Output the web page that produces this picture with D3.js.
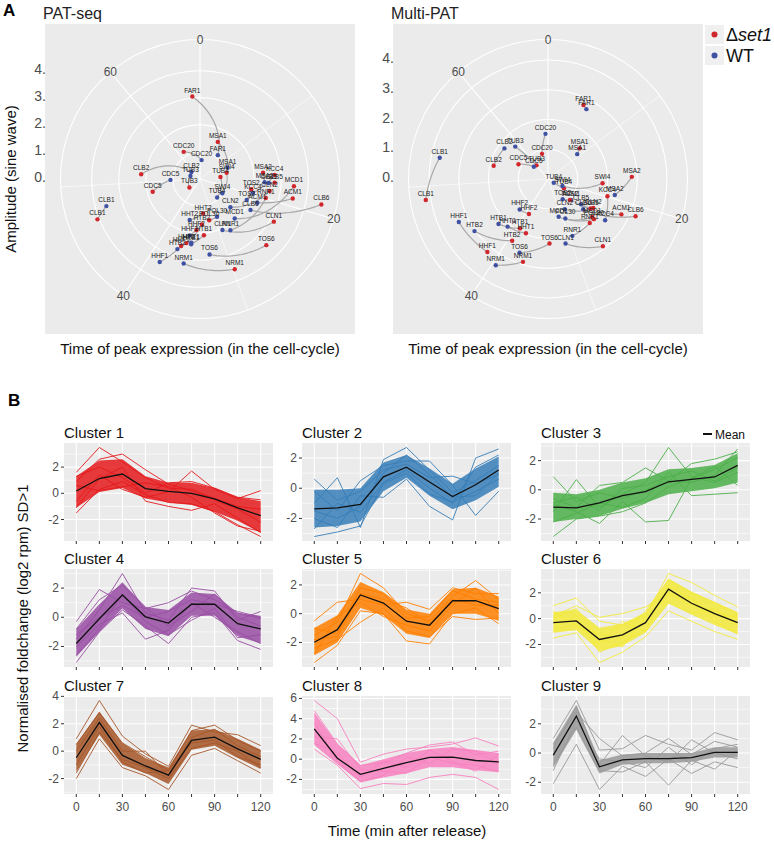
<!DOCTYPE html>
<html>
<head>
<meta charset="utf-8">
<script src="https://cdn.jsdelivr.net/npm/d3@7"></script>
<style>
  body { margin: 0; background: #fff; }
  svg { font-family: "Liberation Sans", Arial, sans-serif; }
</style>
</head>
<body>
<svg id="fig" width="774" height="843"></svg>
<script>
// ---- panel A : polar plots ----
const thetaLimits = [0, 67.5]
const thetaMajor = [0, 20, 40, 60]
const thetaMinor = [10, 30, 50]
const ampBreaks = [0, 1, 2, 3, 4]

// gene, WT time, WT amplitude, set1 time, set1 amplitude
const patSeq = [
  ['FAR1', 6.9, 1.10, 66.5, 3.06],
  ['MSA1', 12.7, 1.10, 4.8, 1.52],
  ['CDC20', 0.9, 0.70, 61.7, 1.17],
  ['SWI4', 23.0, 0.98, 14.4, 1.01],
  ['TUB4', 25.7, 0.93, 15.8, 0.76],
  ['CLB2', 58.0, 0.41, 51.5, 2.18],
  ['TUB3', 53.9, 0.37, 43.4, 0.50],
  ['CDC5', 50.3, 1.09, 47.8, 1.81],
  ['CLB1', 47.6, 3.60, 46.6, 4.07],
  ['MSA2', 17.4, 2.39, 15.8, 2.34],
  ['KCC4', 19.6, 2.02, 16.3, 2.76],
  ['CLB5', 17.5, 2.54, 17.4, 2.76],
  ['MCD1', 26.0, 1.94, 17.7, 3.48],
  ['TOS2', 21.4, 1.89, 19.0, 1.93],
  ['CLN2', 24.9, 1.53, 18.7, 2.61],
  ['RNR1', 28.0, 2.20, 19.9, 2.53],
  ['ACM1', 21.1, 2.29, 19.1, 3.50],
  ['CLB6', 22.8, 2.19, 19.1, 4.58],
  ['CLN1', 29.3, 2.06, 22.5, 3.15],
  ['TOS6', 32.4, 2.81, 25.3, 3.46],
  ['NRM1', 35.8, 3.18, 29.8, 3.57],
  ['HHT2', 36.4, 1.56, 32.8, 1.28],
  ['HTB2', 37.1, 2.72, 33.3, 1.68],
  ['POL30', 29.2, 1.53, 31.4, 1.56],
  ['HTB1', 35.2, 2.43, 33.0, 2.08],
  ['HHF1', 38.6, 3.41, 36.7, 2.57],
  ['HHF2', 35.7, 2.12, 34.5, 1.89],
  ['HHT1', 35.2, 2.37, 36.0, 2.42]
]

const multiPat = [
  ['FAR1', 5.4, 2.68, 4.8, 2.76],
  ['MSA1', 9.3, 1.29, 8.6, 1.48],
  ['CDC20', 66.9, 1.52, 65.0, 0.87],
  ['CLB2', 57.2, 1.79, 53.2, 1.88],
  ['TUB3', 59.0, 1.55, 60.0, 0.60],
  ['CDC5', 58.3, 0.63, 55.6, 1.11],
  ['CLB1', 52.7, 3.71, 48.8, 4.17],
  ['TUB4', 23.0, 0.23, 22.6, 0.62],
  ['SWI4', 21.7, 0.54, 17.7, 1.84],
  ['MSA2', 19.4, 2.31, 16.6, 2.82],
  ['KCC4', 23.6, 2.37, 19.9, 2.08],
  ['ACM1', 24.8, 1.05, 21.7, 2.74],
  ['CLB6', 24.5, 1.56, 21.2, 3.20],
  ['CLB5', 23.9, 1.40, 23.4, 1.74],
  ['TOS2', 27.0, 0.84, 25.1, 1.02],
  ['CLN2', 28.3, 1.16, 23.0, 1.81],
  ['MCD1', 30.8, 1.32, 24.5, 1.96],
  ['POL30', 29.3, 1.45, 24.6, 2.05],
  ['RNR1', 29.4, 2.08, 25.6, 2.04],
  ['CLN1', 30.9, 2.25, 26.4, 2.92],
  ['TOS6', 37.7, 2.66, 33.5, 2.17],
  ['NRM1', 39.6, 3.39, 36.9, 2.91],
  ['HHF1', 45.8, 3.33, 41.2, 3.19],
  ['HTB2', 44.0, 3.03, 39.4, 2.40],
  ['HHT1', 41.3, 2.10, 37.9, 1.97],
  ['HTB1', 42.7, 2.25, 39.3, 1.91],
  ['HHF2', 41.8, 1.40, 39.1, 1.34]
]

// ---- panel B : clusters ----
const times = [0, 15, 30, 45, 60, 75, 90, 105, 120]
const timeLabels = [0, 30, 60, 90, 120]
const clusterNames = ['Cluster 1', 'Cluster 2', 'Cluster 3', 'Cluster 4', 'Cluster 5',
  'Cluster 6', 'Cluster 7', 'Cluster 8', 'Cluster 9']

const clusterMean = [
  [0.18, 1.13, 1.47, 0.36, 0.15, 0.0, -0.42, -1.11, -1.71],
  [-1.37, -1.30, -1.07, 0.75, 1.39, 0.41, -0.55, 0.23, 1.21],
  [-1.19, -1.24, -0.90, -0.40, -0.12, 0.55, 0.71, 0.88, 1.67],
  [-1.80, -0.10, 1.53, 0.03, -0.40, 0.89, 0.89, -0.44, -0.80],
  [-1.99, -1.11, 1.30, 0.74, -0.52, -0.80, 0.90, 0.90, 0.36],
  [-0.31, -0.18, -1.61, -1.25, -0.31, 2.28, 1.19, 0.39, -0.31],
  [-0.48, 2.09, -0.31, -1.08, -1.75, 0.79, 1.03, 0.17, -0.60],
  [3.00, 0.10, -1.50, -0.90, -0.33, 0.17, 0.20, -0.13, -0.27],
  [-0.14, 2.53, -0.94, -0.47, -0.38, -0.38, -0.31, 0.05, 0.05]
]

// dense core of the gene profiles (lower / upper edge)
const clusterLo = [
  [-1.1, 0.1, 0.4, -0.4, -0.7, -0.9, -1.4, -2.1, -3.0],
  [-2.6, -2.5, -2.2, -0.2, 0.7, -0.5, -1.4, -0.8, 0.1],
  [-2.2, -2.0, -1.8, -1.3, -0.9, -0.3, -0.1, 0.1, 0.5],
  [-2.7, -1.0, 0.6, -0.8, -1.3, 0.1, 0.1, -1.3, -1.8],
  [-2.9, -2.0, 0.4, -0.1, -1.4, -1.7, 0.0, 0.0, -0.5],
  [-1.1, -0.9, -2.5, -2.1, -1.1, 1.2, 0.3, -0.5, -1.2],
  [-1.5, 1.2, -1.0, -1.6, -2.4, 0.1, 0.4, -0.5, -1.3],
  [1.4, -0.5, -2.3, -1.8, -1.4, -0.8, -0.8, -1.1, -1.3],
  [-1.0, 1.6, -1.4, -0.8, -0.7, -0.7, -0.6, -0.3, -0.3]
]
const clusterHi = [
  [1.3, 2.5, 2.6, 1.3, 0.8, 0.8, 0.4, -0.3, -0.6],
  [-0.1, -0.1, 0.0, 1.7, 2.2, 1.3, 0.3, 1.3, 2.1],
  [-0.2, -0.3, 0.0, 0.5, 0.8, 1.4, 1.5, 1.7, 2.5],
  [-0.8, 0.9, 2.4, 0.7, 0.5, 1.7, 1.6, 0.3, 0.1],
  [-1.0, -0.1, 2.2, 1.5, 0.3, 0.0, 1.7, 1.8, 1.2],
  [0.5, 0.7, -0.7, -0.4, 0.5, 3.1, 2.1, 1.3, 0.5],
  [0.5, 2.9, 0.6, -0.5, -1.2, 1.5, 1.6, 0.9, 0.1],
  [4.6, 1.5, -0.6, 0.0, 0.6, 1.0, 1.2, 0.9, 0.6],
  [0.7, 3.3, -0.5, -0.1, 0.0, 0.0, 0.0, 0.4, 0.4]
]

// individual gene profiles
const clusterLines = [
  [[1.6, 3.5, 2.4, 1.2, 0.4, 0.3, -0.4, -1.0, -1.2],
   [-1.5, 0.3, 0.9, -0.1, -0.7, -0.8, -1.4, -2.4, -3.3],
   [0.9, 2.6, 3.0, 1.8, 0.7, 0.2, -0.5, -1.2, -2.2],
   [-0.6, 1.4, 0.3, -0.3, 0.1, 1.7, 0.3, -0.4, 0.2],
   [0.6, 0.2, 0.5, 0.8, 0.5, -0.3, -1.5, -2.5, -2.9],
   [-1.1, 1.1, 2.0, -0.6, -1.0, -1.3, -0.8, -1.9, -3.0],
   [1.3, 2.0, 1.2, 0.0, 0.8, 0.9, 0.4, -0.3, -0.5]],
  [[0.6, -0.8, -0.2, 1.2, 1.6, 0.7, 0.8, 0.3, 0.9],
   [-3.2, -2.9, -2.5, 0.3, 1.0, -0.4, -0.9, -0.2, 0.6],
   [-1.0, 0.7, -2.6, 1.9, 2.7, 1.2, -0.3, 0.5, 1.5],
   [-2.0, -2.6, -0.5, -0.6, 0.6, -1.2, -2.1, 2.0, 2.6],
   [-0.2, -1.5, 0.5, 1.5, 1.8, 1.8, 0.2, -1.8, -0.2],
   [-2.7, -1.0, -1.6, 0.4, 1.2, 0.0, -1.0, 1.4, 2.2],
   [-1.5, -2.0, -1.2, 1.0, 2.2, 0.9, -0.6, -0.5, 1.0]],
  [[0.9, -0.8, -0.2, -0.6, 0.0, 0.6, 0.5, 1.0, 2.8],
   [-3.2, -2.0, -1.8, -1.5, -0.9, 0.2, 0.8, 1.4, 2.2],
   [-1.5, 0.7, -1.2, -0.3, 0.5, 2.9, 0.9, 0.5, 1.2],
   [-1.0, -1.5, -2.3, -0.8, -2.2, -2.1, 0.8, 1.6, 0.3],
   [-0.6, -1.2, 0.3, 0.5, 1.5, 0.6, 1.8, 2.1, 2.6],
   [-2.2, -1.6, -0.9, -1.2, -0.6, 1.2, -0.4, -0.3, -0.2],
   [-0.9, -0.5, -1.4, 0.1, 0.3, 0.9, 1.3, 0.6, 1.5]],
  [[-0.3, 1.9, 1.0, 0.6, 1.0, 1.8, 1.2, 0.3, -0.1],
   [-3.1, -1.0, 0.5, -0.6, -1.8, 0.0, 0.3, -1.6, -2.2],
   [-1.5, 0.5, 3.0, 0.3, -0.2, 2.0, 1.8, -0.2, 0.4],
   [-2.0, -0.5, 0.3, -1.5, -0.9, 1.0, 0.0, -1.0, -1.8],
   [-0.8, 1.2, 2.2, 0.7, -0.6, 0.4, 1.6, 0.0, -0.6],
   [-2.6, -0.8, 1.6, -0.3, -1.2, -0.2, 0.6, -1.4, -1.2],
   [-1.2, 0.0, 0.8, 0.0, 0.4, 1.2, 0.9, 0.4, 0.0]],
  [[-0.5, 0.8, 1.0, 0.6, 0.8, 0.3, 1.8, 1.4, 1.4],
   [-3.4, -2.2, 0.2, 0.0, -1.9, -2.1, 0.0, 0.4, -0.7],
   [-1.5, -0.6, 2.8, 1.8, 0.0, -0.5, 1.2, 2.3, 1.0],
   [-2.4, -1.8, -0.6, 0.4, -1.2, -1.6, -0.2, -0.4, -0.3],
   [-1.0, -1.4, 1.8, 1.4, -0.3, -0.2, 1.6, 1.0, 0.8],
   [-2.8, -0.2, 0.8, -0.2, -0.8, -1.2, 0.6, 1.8, 0.0],
   [-1.8, -1.6, 1.4, 1.0, 0.4, -0.7, 1.0, 0.6, 0.6]],
  [[1.0, 1.6, -0.2, -0.5, 0.2, 3.5, 2.8, 1.8, 0.9],
   [-1.5, -1.1, -3.4, -2.6, -1.4, 0.6, -0.2, -1.0, -1.6],
   [0.2, 1.0, 0.1, 0.4, 0.9, 2.0, 1.0, 0.6, 0.0],
   [-0.8, 0.3, -2.6, -1.8, -0.9, 2.6, 1.5, -0.2, -1.2],
   [0.6, -0.6, -1.2, -1.5, 0.6, 3.0, 2.0, 1.2, 0.4],
   [-1.0, -0.4, -2.0, -0.2, -1.0, 1.2, 0.4, 0.8, -0.6],
   [0.0, 0.8, -1.6, -2.2, 0.1, 1.8, 1.6, 0.2, 0.2]],
  [[0.9, 3.7, 1.1, -0.2, -1.1, 1.9, 1.4, 1.2, 0.4],
   [-2.0, 0.9, -1.2, -1.8, -2.8, -0.3, 0.2, -0.7, -1.6],
   [0.5, 2.8, 0.6, -0.4, -1.4, 1.5, 1.9, 0.8, 0.0],
   [-1.6, 1.4, -0.6, -1.2, -2.0, 0.2, 0.6, 0.0, -1.2],
   [0.0, 2.4, 0.0, 0.0, -1.8, 1.0, 1.6, 0.4, -0.4],
   [-1.0, 1.8, -0.8, -1.6, -1.4, 0.6, 0.8, -0.4, -1.0]],
  [[5.8, 4.0, -0.3, 0.5, 1.0, 1.2, 1.5, 2.1, 1.3],
   [1.0, -0.6, -2.9, -2.4, -2.5, -1.8, -1.5, -1.8, -3.0],
   [4.8, 1.5, -0.6, -0.4, 0.6, 1.4, 1.7, 0.4, 0.8],
   [2.2, 2.0, -1.0, -1.2, -1.4, 0.2, -0.4, -0.6, -1.2],
   [3.6, -0.2, -2.2, -1.6, 0.2, -0.4, 1.0, 0.8, -0.4],
   [1.6, 0.6, -1.8, -0.2, -0.8, 0.9, -0.2, -1.2, 0.5]],
  [[1.0, 3.6, 0.2, 0.3, 1.2, 0.6, 0.2, 1.4, 0.9],
   [-2.1, 0.6, -2.5, -0.9, -1.6, -0.4, -1.4, -0.6, -1.0],
   [0.6, 2.8, 1.0, -0.2, 0.0, 1.0, -0.1, 0.8, 0.4],
   [-0.8, 1.8, -1.2, -1.3, -0.6, -2.2, -0.5, -1.1, 0.2],
   [0.3, 3.2, -0.8, 1.2, -0.2, -0.6, 0.9, 0.0, -0.4],
   [-1.2, 2.2, -0.4, -0.6, -1.0, 0.4, -0.8, 0.3, 0.6]]
]

const wtColor = '#3f51a3'
const koColor = '#d1262b'
const panelBg = '#ebebeb'
const axisGrey = '#4d4d4d'

const svg = d3.select('#fig')

// ---------- A ----------
svg.append('text').attr('x', 3).attr('y', 16).attr('font-size', 17).attr('font-weight', 'bold').text('A')

const drawPolar = (rows, title, x0, leftTitle) => {

    const size = 310, y0 = 24
    const cx = x0 + size / 2, cy = y0 + size / 2
    const g = svg.append('g')

    g.append('rect').attr('x', x0).attr('y', y0).attr('width', size).attr('height', size).attr('fill', panelBg)

    const ang = d3.scaleLinear().domain(thetaLimits).range([0, 2 * Math.PI])
    const rMax = d3.max(rows, d => Math.max(d[2], d[4]))
    const rad = d3.scaleLinear().domain([0, rMax]).range([0, 0.4 * size])
    const outer = 0.45 * size
    const pos = (t, r) => [cx + r * Math.sin(ang(t)), cy - r * Math.cos(ang(t))]

    // grid
    thetaMinor.forEach(t => {
        const p = pos(t, outer)
        g.append('line').attr('x1', cx).attr('y1', cy).attr('x2', p[0]).attr('y2', p[1])
            .attr('stroke', '#fff').attr('stroke-width', 0.6)
    })
    ampBreaks.filter(b => b > 0 && rad(b) <= 0.4 * size).forEach(b => {
        g.append('circle').attr('cx', cx).attr('cy', cy).attr('r', rad(b))
            .attr('fill', 'none').attr('stroke', '#fff').attr('stroke-width', 1.1)
    })
    g.append('circle').attr('cx', cx).attr('cy', cy).attr('r', outer)
        .attr('fill', 'none').attr('stroke', '#fff').attr('stroke-width', 1.1)
    thetaMajor.forEach(t => {
        const p = pos(t, outer)
        g.append('line').attr('x1', cx).attr('y1', cy).attr('x2', p[0]).attr('y2', p[1])
            .attr('stroke', '#fff').attr('stroke-width', 1.1)
        g.append('text').attr('x', p[0]).attr('y', p[1]).attr('text-anchor', 'middle')
            .attr('dominant-baseline', 'central').attr('font-size', 12).attr('fill', axisGrey).text(t)
    })

    // r axis labels
    ampBreaks.filter(b => rad(b) <= 0.4 * size).forEach(b => {
        g.append('text').attr('x', x0 + 1).attr('y', cy - rad(b) - 2).attr('text-anchor', 'end')
            .attr('dominant-baseline', 'central').attr('font-size', 14).attr('fill', axisGrey).text(b + '.')
    })

    // paths joining WT and set1 for each gene
    const span = thetaLimits[1] - thetaLimits[0]
    const line = d3.line()
    rows.forEach(d => {
        let dt = d[1] - d[3]
        if (dt > span / 2) dt -= span
        if (dt < -span / 2) dt += span
        const pts = d3.range(31).map(k => {
            const f = k / 30
            return pos(d[3] + dt * f, rad(d[4] + (d[2] - d[4]) * f))
        })
        g.append('path').attr('d', line(pts)).attr('fill', 'none')
            .attr('stroke', '#a8a8a8').attr('stroke-width', 1.2)
    })

    const pts = []
    rows.forEach(d => {
        pts.push({ g: d[0], t: d[3], a: d[4], c: koColor })
        pts.push({ g: d[0], t: d[1], a: d[2], c: wtColor })
    })
    pts.forEach(p => {
        const q = pos(p.t, rad(p.a))
        g.append('circle').attr('cx', q[0]).attr('cy', q[1]).attr('r', 2.2).attr('fill', p.c)
    })
    pts.forEach(p => {
        const q = pos(p.t, rad(p.a))
        g.append('text').attr('x', q[0]).attr('y', q[1] - 4).attr('text-anchor', 'middle')
            .attr('font-size', 6.5).attr('fill', '#222').text(p.g)
    })

    g.append('text').attr('x', x0 - 2).attr('y', 19).attr('font-size', 16).attr('fill', '#222').text(title)
    g.append('text').attr('x', cx).attr('y', 354).attr('text-anchor', 'middle')
        .attr('font-size', 15).attr('fill', '#111').text('Time of peak expression (in the cell-cycle)')
    if (leftTitle) {
        g.append('text').attr('transform', `translate(16,${cy}) rotate(-90)`).attr('text-anchor', 'middle')
            .attr('font-size', 15).attr('fill', '#111').text('Amplitude (sine wave)')
    }
}

drawPolar(patSeq, 'PAT-seq', 45, true)
drawPolar(multiPat, 'Multi-PAT', 393, false)

// legend
const legend = svg.append('g')
const legendItems = [{ c: koColor, k: 'set1' }, { c: wtColor, k: 'WT' }]
legendItems.forEach((d, i) => {
    const y = 25 + i * 21
    legend.append('rect').attr('x', 705).attr('y', y).attr('width', 19).attr('height', 19).attr('fill', '#f0f0f0')
    legend.append('circle').attr('cx', 714.5).attr('cy', y + 9.5).attr('r', 3).attr('fill', d.c)
    const t = legend.append('text').attr('x', 726).attr('y', y + 10).attr('dominant-baseline', 'central')
        .attr('font-size', 18).attr('fill', '#111')
    if (d.k === 'set1') {
        t.append('tspan').text('\u0394')
        t.append('tspan').attr('font-style', 'italic').text('set1')
    } else {
        t.text(d.k)
    }
})

// ---------- B ----------
svg.append('text').attr('x', 8).attr('y', 406).attr('font-size', 17).attr('font-weight', 'bold').text('B')

const colX = [64, 302, 541], rowY = [443, 569, 696]
const pw = 209, ph = 98
const palette = d3.schemeSet1.slice()
palette[5] = '#f3ea3a'

clusterNames.forEach((name, i) => {

    const x0 = colX[i % 3], y0 = rowY[Math.floor(i / 3)]
    const g = svg.append('g')
    const all = clusterLines[i].flat().concat(clusterMean[i], clusterLo[i], clusterHi[i])
    const [mn, mx] = d3.extent(all)
    const pad = (mx - mn) * 0.05
    const y = d3.scaleLinear().domain([mn - pad, mx + pad]).range([y0 + ph, y0])
    const x = d3.scaleLinear().domain([-8, 128]).range([x0, x0 + pw])
    const [d0, d1] = y.domain()

    g.append('rect').attr('x', x0).attr('y', y0).attr('width', pw).attr('height', ph).attr('fill', panelBg)

    const major = d3.range(Math.ceil(d0 / 2) * 2, d1, 2)
    const minor = d3.range(Math.ceil((d0 - 1) / 2) * 2 + 1, d1, 2)
    minor.forEach(v => g.append('line').attr('x1', x0).attr('x2', x0 + pw).attr('y1', y(v)).attr('y2', y(v))
        .attr('stroke', '#fff').attr('stroke-width', 0.6))
    major.forEach(v => g.append('line').attr('x1', x0).attr('x2', x0 + pw).attr('y1', y(v)).attr('y2', y(v))
        .attr('stroke', '#fff').attr('stroke-width', 1.1))
    times.forEach(t => g.append('line').attr('x1', x(t)).attr('x2', x(t)).attr('y1', y0).attr('y2', y0 + ph)
        .attr('stroke', '#fff').attr('stroke-width', 1.1))

    const col = palette[i]
    const area = d3.area().x((d, k) => x(times[k])).y0((d, k) => y(clusterLo[i][k])).y1((d, k) => y(clusterHi[i][k]))
    g.append('path').attr('d', area(times)).attr('fill', col).attr('opacity', 0.85)

    const ln = d3.line().x((d, k) => x(times[k])).y(d => y(d))
    clusterLines[i].forEach(l => g.append('path').attr('d', ln(l)).attr('fill', 'none')
        .attr('stroke', col).attr('stroke-width', 0.9))
    g.append('path').attr('d', ln(clusterMean[i])).attr('fill', 'none').attr('stroke', '#111').attr('stroke-width', 1.3)

    // axes
    major.forEach(v => {
        g.append('line').attr('x1', x0 - 3).attr('x2', x0).attr('y1', y(v)).attr('y2', y(v)).attr('stroke', '#333')
        g.append('text').attr('x', x0 - 5).attr('y', y(v)).attr('text-anchor', 'end').attr('dominant-baseline', 'central')
            .attr('font-size', 12).attr('fill', axisGrey).text(v)
    })
    times.forEach(t => g.append('line').attr('x1', x(t)).attr('x2', x(t)).attr('y1', y0 + ph).attr('y2', y0 + ph + 3)
        .attr('stroke', '#333'))
    if (i >= 6) {
        timeLabels.forEach(t => g.append('text').attr('x', x(t)).attr('y', y0 + ph + 13).attr('text-anchor', 'middle')
            .attr('dominant-baseline', 'central').attr('font-size', 12).attr('fill', axisGrey).text(t))
    }

    g.append('text').attr('x', x0).attr('y', y0 - 5).attr('font-size', 15).attr('fill', '#111').text(name)
})

// mean legend
svg.append('line').attr('x1', 703).attr('x2', 712).attr('y1', 434).attr('y2', 434).attr('stroke', '#111').attr('stroke-width', 2)
svg.append('text').attr('x', 715).attr('y', 435).attr('dominant-baseline', 'central').attr('font-size', 12)
    .attr('fill', '#111').text('Mean')

svg.append('text').attr('x', (colX[0] + colX[2] + pw) / 2).attr('y', 836).attr('text-anchor', 'middle')
    .attr('font-size', 15).attr('fill', '#111').text('Time (min after release)')
svg.append('text').attr('transform', `translate(28,${(rowY[0] + rowY[2] + ph) / 2}) rotate(-90)`)
    .attr('text-anchor', 'middle').attr('font-size', 15).attr('fill', '#111')
    .text('Normalised foldchange (log2 rpm) SD>1')
</script>
</body>
</html>
